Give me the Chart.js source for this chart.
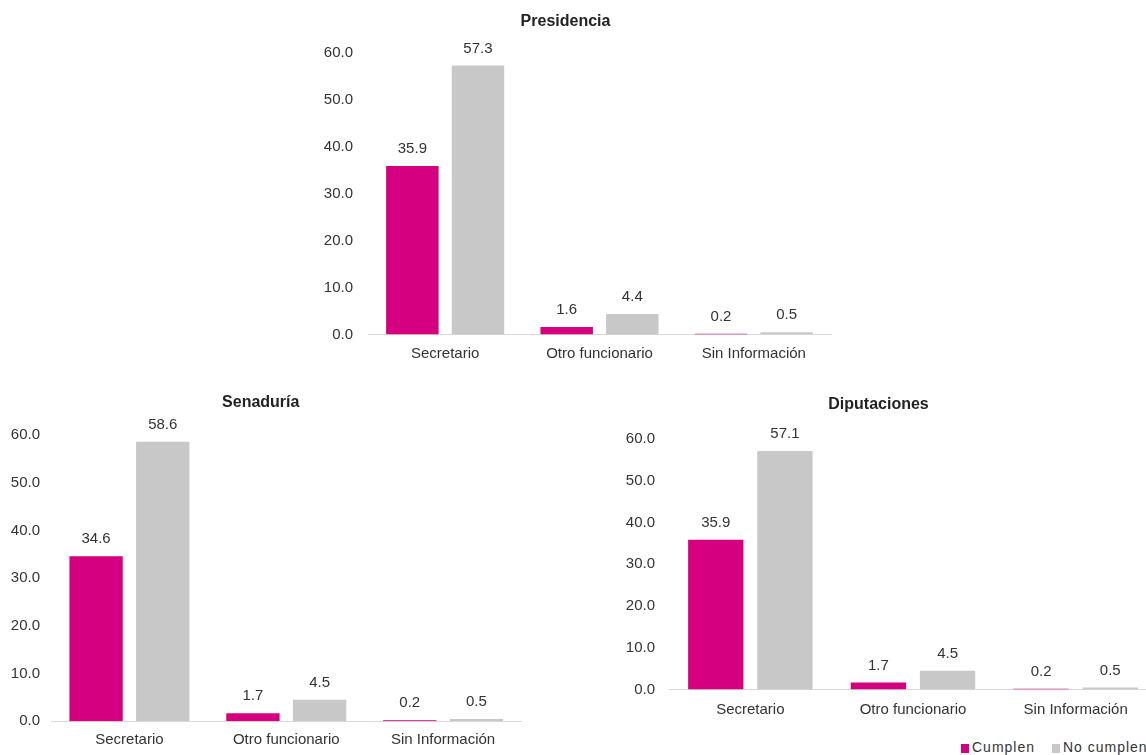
<!DOCTYPE html>
<html>
<head>
<meta charset="utf-8">
<script src="https://cdn.jsdelivr.net/npm/chart.js@4.4.1/dist/chart.umd.min.js"></script>
<style>
  html, body { margin: 0; padding: 0; background: #fff; overflow: hidden; width: 1146px; height: 755px; }
  canvas { position: absolute; }
  #legend { position: absolute; left: 961px; top: 739px; font: 14px "Liberation Sans", Arial, sans-serif; letter-spacing: 1px; color: #333; white-space: nowrap; }
  #legend span.box { display: inline-block; width: 8px; height: 9px; margin-right: 3px; vertical-align: -1px; }
</style>
</head>
<body>
<canvas id="presidencia" width="565" height="383" style="left:300px;top:0px;"></canvas>
<canvas id="senaduria" width="536" height="388" style="left:0px;top:380px;"></canvas>
<canvas id="diputaciones" width="593" height="354" style="left:600px;top:385px;"></canvas>
<div id="legend">
  <span class="box" style="background:#d5007f"></span>Cumplen
  <span class="box" style="background:#c8c8c8;margin-left:12px"></span>No cumplen
</div>
<script>
const categories = ["Secretario", "Otro funcionario", "Sin Información"];
const seriesNames = ["Cumplen", "No cumplen"];

const presidenciaCumplen = [35.9, 1.6, 0.2];
const presidenciaNoCumplen = [57.3, 4.4, 0.5];
const senaduriaCumplen = [34.6, 1.7, 0.2];
const senaduriaNoCumplen = [58.6, 4.5, 0.5];
const diputacionesCumplen = [35.9, 1.7, 0.2];
const diputacionesNoCumplen = [57.1, 4.5, 0.5];

const yMin = 0;
const yMax = 60;
const yStep = 10;

const FONT = "'Liberation Sans', Arial, sans-serif";
const TEXT = "#333333";

// draws the value above each bar
const valueLabels = {
  id: "valueLabels",
  afterDatasetsDraw(chart) {
    const ctx = chart.ctx;
    ctx.save();
    ctx.font = `15px ${FONT}`;
    ctx.fillStyle = TEXT;
    ctx.textAlign = "center";
    ctx.textBaseline = "middle";
    chart.data.datasets.forEach((ds, i) => {
      chart.getDatasetMeta(i).data.forEach((bar, j) => {
        ctx.fillText(ds.data[j].toFixed(1), bar.x, bar.y - 17);
      });
    });
    ctx.restore();
  },
};

function renderPanel(canvasId, title, cumplen, noCumplen, cfg) {
  const canvas = document.getElementById(canvasId);
  return new Chart(canvas, {
    type: "bar",
    data: {
      labels: categories,
      datasets: [
        {
          label: seriesNames[0],
          data: cumplen,
          backgroundColor: "#d5007f",
          categoryPercentage: 0.85,
          barPercentage: 0.8,
        },
        {
          label: seriesNames[1],
          data: noCumplen,
          backgroundColor: "#c8c8c8",
          categoryPercentage: 0.85,
          barPercentage: 0.8,
        },
      ],
    },
    options: {
      responsive: false,
      animation: false,
      layout: {
        padding: { left: 0, top: 0, right: cfg.right, bottom: cfg.bottom },
      },
      plugins: {
        legend: { display: false },
        tooltip: { enabled: false },
        title: {
          display: true,
          text: title,
          color: "#222",
          font: { family: FONT, size: 16, weight: "bold" },
          padding: { top: cfg.titleTop, bottom: cfg.titleBottom },
        },
      },
      scales: {
        x: {
          grid: { display: false, drawTicks: false },
          border: { display: true, color: "#d9d9d9", width: 1 },
          ticks: {
            color: TEXT,
            font: { family: FONT, size: 15 },
            padding: cfg.xPad,
            maxRotation: 0,
            autoSkip: false,
          },
        },
        y: {
          min: yMin,
          max: yMax,
          grid: { display: false, drawTicks: false },
          border: { display: false },
          ticks: {
            stepSize: yStep,
            color: TEXT,
            font: { family: FONT, size: 15 },
            padding: cfg.yPad,
            callback: (val) => Number(val).toFixed(1),
          },
          afterFit: (scale) => {
            scale.width = cfg.axisW;
          },
        },
      },
    },
    plugins: [valueLabels],
  });
}

renderPanel("presidencia", "Presidencia", presidenciaCumplen, presidenciaNoCumplen, {
  right: 34, bottom: 10.4, titleTop: 12, titleBottom: 21.6, axisW: 68, yPad: 15, xPad: 10,
});
renderPanel("senaduria", "Senaduría", senaduriaCumplen, senaduriaNoCumplen, {
  right: 14.5, bottom: 8.7, titleTop: 13, titleBottom: 22.8, axisW: 51, yPad: 11, xPad: 10,
});
renderPanel("diputaciones", "Diputaciones", diputacionesCumplen, diputacionesNoCumplen, {
  right: 36, bottom: 9.4, titleTop: 10, titleBottom: 24.8, axisW: 69, yPad: 14, xPad: 11,
});
</script>
</body>
</html>
